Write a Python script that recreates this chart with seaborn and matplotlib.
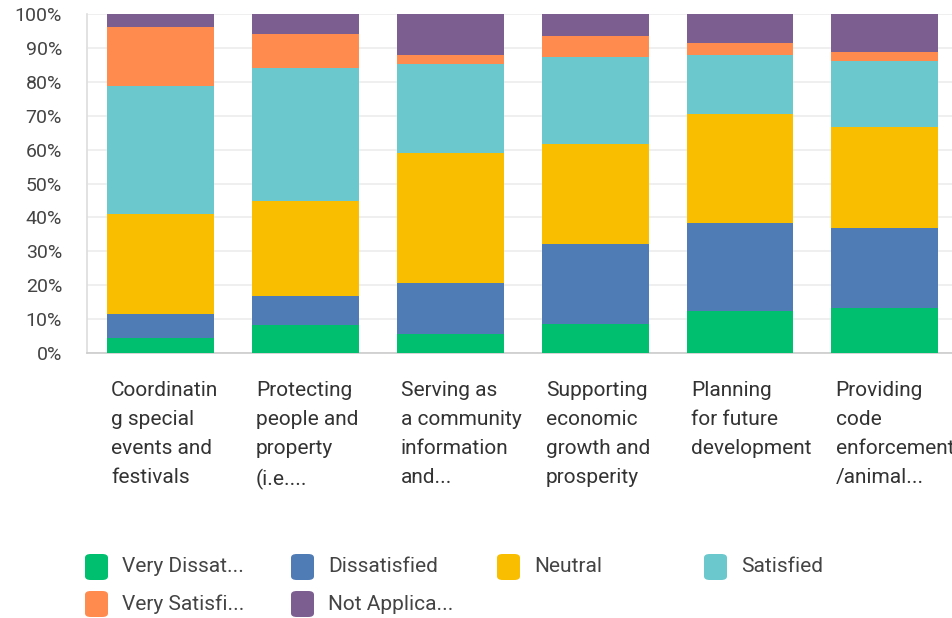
import matplotlib
matplotlib.use("Agg")
import matplotlib.pyplot as plt
import seaborn as sns
import numpy as np
import pandas as pd
from matplotlib.patches import FancyBboxPatch
from matplotlib.transforms import blended_transform_factory

categories = [
    "Coordinatin\ng special\nevents and\nfestivals",
    "Protecting\npeople and\nproperty\n(i.e....",
    "Serving as\na community\ninformation\nand...",
    "Supporting\neconomic\ngrowth and\nprosperity",
    "Planning\nfor future\ndevelopment",
    "Providing\ncode\nenforcement\n/animal...",
]
series_names = ["Very Dissat...", "Dissatisfied", "Neutral", "Satisfied",
                "Very Satisfi...", "Not Applica..."]
very_dissatisfied = [4.3, 8.1, 5.6, 8.6, 12.3, 13.3]
dissatisfied = [7.3, 8.7, 14.9, 23.5, 26.1, 23.6]
neutral = [29.5, 27.9, 38.4, 29.5, 32.1, 29.9]
satisfied = [37.8, 39.5, 26.3, 25.7, 17.4, 19.5]
very_satisfied = [17.4, 10.1, 2.7, 6.4, 3.7, 2.6]
not_applicable = [3.7, 5.7, 12.1, 6.3, 8.4, 11.1]
yticks = [0, 10, 20, 30, 40, 50, 60, 70, 80, 90, 100]

colors = ["#00BF6F", "#507CB6", "#F9BE00", "#6BC8CD", "#FF8B4F", "#7D5E90"]
series = [very_dissatisfied, dissatisfied, neutral, satisfied, very_satisfied, not_applicable]

sns.set_theme(style="white")
plt.rcParams["font.family"] = ["Roboto", "DejaVu Sans"]

fig = plt.figure(figsize=(9.53, 6.18), dpi=100)
ax = fig.add_axes([0.0913, 0.429, 0.9087, 0.548])

ids = [f"c{i}" for i in range(len(categories))]
bottom = np.zeros(len(categories))
for name, vals, col in zip(series_names, series, colors):
    df = pd.DataFrame({"cat": ids, "val": vals})
    sns.barplot(data=df, x="cat", y="val", color=col, width=0.738,
                bottom=bottom, ax=ax, saturation=1, linewidth=0, zorder=3)
    bottom = bottom + np.array(vals)

ax.set_xlim(-0.507, 5.47)
ax.set_ylim(0, 100)
ax.set_yticks(yticks)
ax.set_yticklabels([f"{t}%" for t in yticks], fontsize=14, color="#444444")
ax.tick_params(axis="y", length=0, pad=18)
ax.set_xticks([])
ax.set_xlabel("")
ax.set_ylabel("")
ax.grid(axis="y", color="#ececec", linewidth=1.2, zorder=0)
for s in ["top", "right"]:
    ax.spines[s].set_visible(False)
ax.spines["left"].set_color("#dddddd")
ax.spines["bottom"].set_color("#cccccc")
ax.spines["left"].set_linewidth(1.2)
ax.spines["bottom"].set_linewidth(1.2)

trans = blended_transform_factory(ax.transData, fig.transFigure)
for i, lab in enumerate(categories):
    ax.text(i - 0.34, 1 - 381 / 618, lab, transform=trans, ha="left", va="top",
            fontsize=15, color="#333333", linespacing=1.66)

# legend
leg_x = [85, 291, 497, 704]
leg_y = [567, 604]
W, H = 953, 618
for k, (name, col) in enumerate(zip(series_names, colors)):
    r, c = divmod(k, 4)
    x0 = leg_x[c] / W
    yc = 1 - leg_y[r] / H
    box = FancyBboxPatch((x0, yc - 13 / H), 23 / W, 26 / H,
                         boxstyle="round,pad=0,rounding_size=0.006",
                         transform=fig.transFigure, facecolor=col, edgecolor="none")
    fig.patches.append(box)
    fig.text((leg_x[c] + 37) / W, yc, name, ha="left", va="center",
             fontsize=15, color="#444444")

fig.savefig("out.png", dpi=100)
